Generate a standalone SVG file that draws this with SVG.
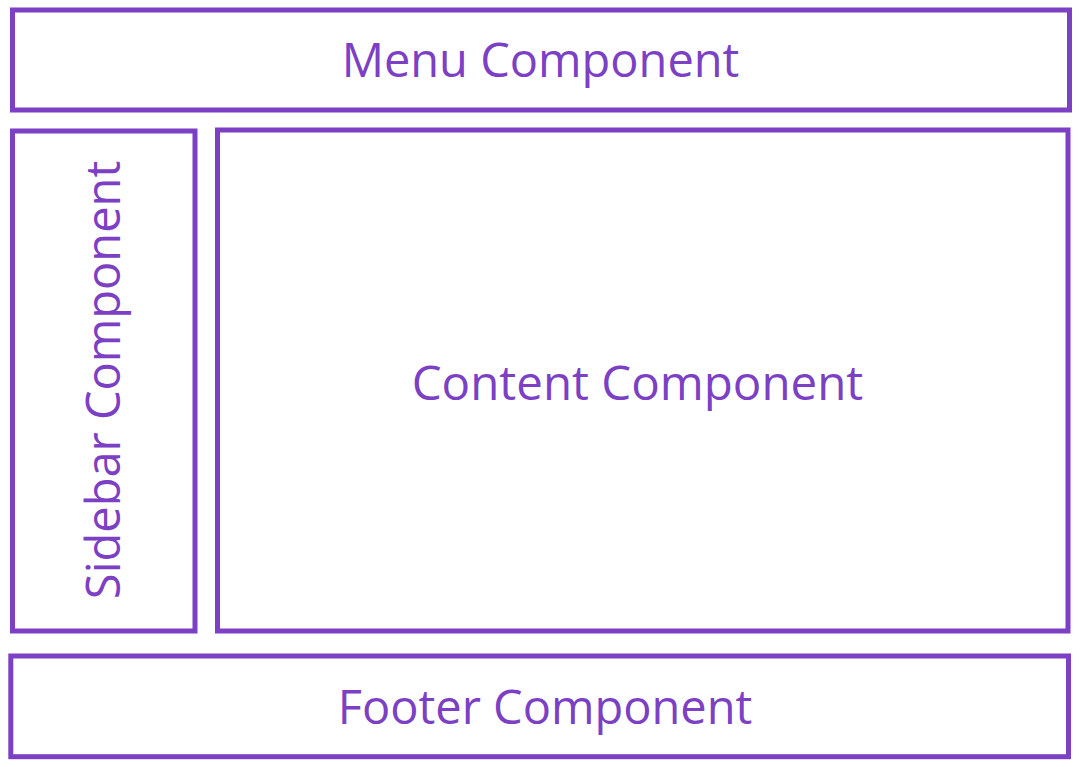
<svg xmlns="http://www.w3.org/2000/svg" width="1080" height="767" viewBox="0 0 1080 767">
<style>
.box{fill:#ffffff;stroke:#7c40c4;stroke-width:5}
.lbl{fill:#7c40c4;font-family:"Open Sans","Noto Sans","Liberation Sans",sans-serif;text-anchor:middle;font-size:47px}
</style>
<rect width="1080" height="767" fill="#ffffff"/>
<g id="menu">
<rect class="box" x="12.5" y="10" width="1057" height="100"/>
<text class="lbl" x="540.5" y="77">Menu Component</text>
</g>
<g id="sidebar">
<rect class="box" x="12.5" y="131" width="182.5" height="500"/>
<text class="lbl" transform="translate(120,380) rotate(-90)">Sidebar Component</text>
</g>
<g id="content">
<rect class="box" x="217.5" y="130" width="850.5" height="501"/>
<text class="lbl" x="637.5" y="400" style="font-size:47.5px">Content Component</text>
</g>
<g id="footer">
<rect class="box" x="10.8" y="656" width="1057.7" height="100.7"/>
<text class="lbl" x="545" y="724">Footer Component</text>
</g>
<g id="connectors"></g>
</svg>
